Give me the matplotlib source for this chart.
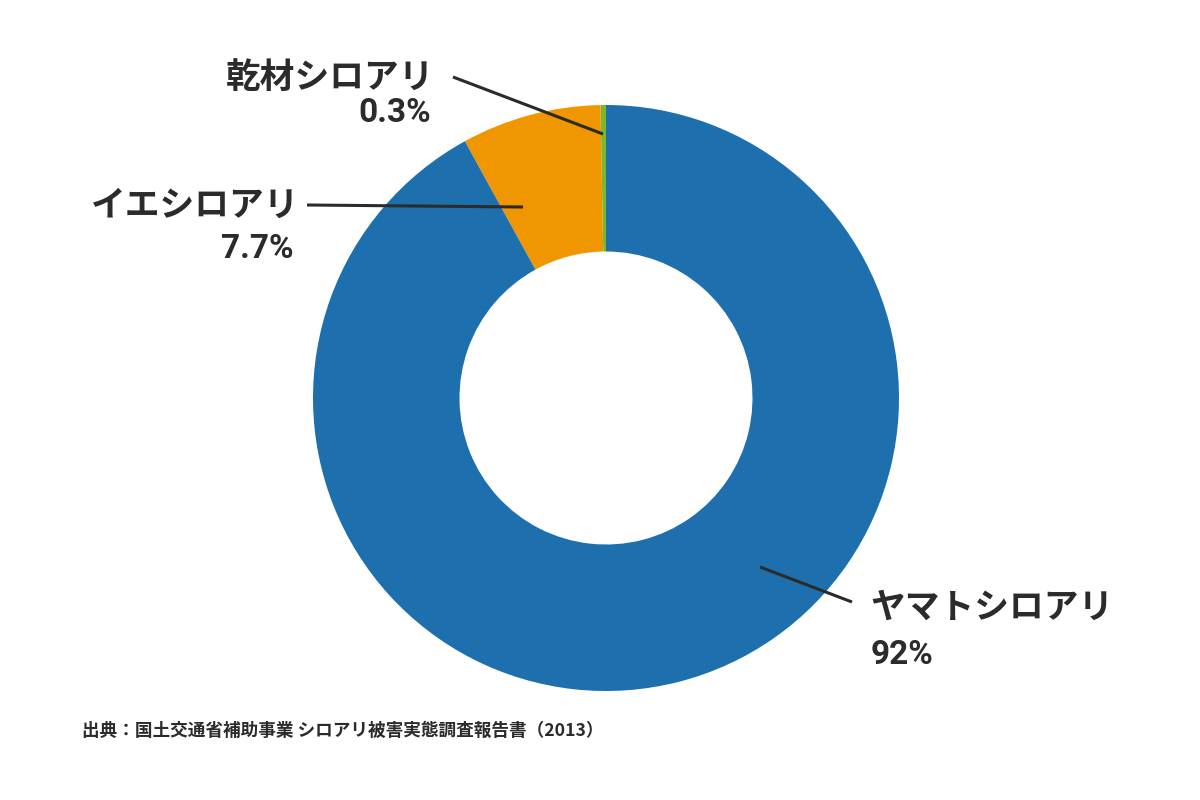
import matplotlib
matplotlib.use("Agg")
import matplotlib.pyplot as plt

plt.rcParams['font.family'] = ['Noto Sans CJK JP', 'DejaVu Sans']

categories = ["乾材シロアリ", "イエシロアリ", "ヤマトシロアリ"]
values = [0.3, 7.7, 92.0]
pct_labels = ["0.3%", "7.7%", "92%"]
colors = ["#7cb82f", "#ef9600", "#1d6fae"]
source = "出典：国土交通省補助事業 シロアリ被害実態調査報告書（2013）"

fig = plt.figure(figsize=(12, 8), dpi=100)
ax = fig.add_axes([0, 0, 1, 1])
ax.pie(values, colors=colors, startangle=90, counterclock=True,
       center=(606, 402), radius=293,
       wedgeprops=dict(width=146.5, edgecolor='none'))
ax.set_xlim(0, 1200)
ax.set_ylim(0, 800)
ax.set_aspect('equal')
ax.axis('off')

tc = "#2b2b2b"
# label layout: (name pos, pct pos, ha, line start, line end)
layout = [
    ((434, 723), (431, 687), 'right', (453, 723), (603, 666)),
    ((299, 595), (293, 551), 'right', (307, 595), (523, 593)),
    ((870, 193), (871, 145), 'left', (852, 198), (760, 233)),
]
for cat, pct, (npos, ppos, ha, l0, l1) in zip(categories, pct_labels, layout):
    ax.text(npos[0], npos[1], cat, ha=ha, va='center', fontsize=25,
            fontweight='bold', color=tc)
    ax.text(ppos[0], ppos[1], pct, ha=ha, va='center', fontsize=24,
            fontweight='bold', color=tc, family=['Roboto', 'DejaVu Sans'])
    ax.plot([l0[0], l1[0]], [l0[1], l1[1]], color=tc, lw=2.2,
            solid_capstyle='butt')

ax.text(82, 69, source, ha='left', va='center', fontsize=12.7,
        fontweight='bold', color=tc)

fig.savefig("out.png", dpi=100)
